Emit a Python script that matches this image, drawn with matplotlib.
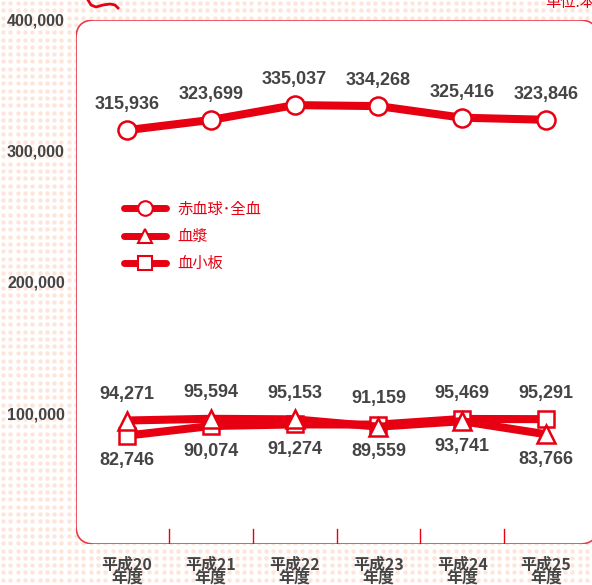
import numpy as np
import matplotlib
matplotlib.use("Agg")
import matplotlib.pyplot as plt
from matplotlib.patches import FancyBboxPatch
from matplotlib.lines import Line2D

years = ['平成20\n年度', '平成21\n年度', '平成22\n年度', '平成23\n年度', '平成24\n年度', '平成25\n年度']
whole_blood = [315936, 323699, 335037, 334268, 325416, 323846]
plasma = [94271, 95594, 95153, 89559, 93741, 83766]
platelet = [82746, 90074, 91274, 91159, 95469, 95291]
series_names = ['赤血球･全血', '血漿', '血小板']
yticks = [100000, 200000, 300000, 400000]

RED = '#e60012'
GRAY = '#444444'
NUM_FONT = ['Liberation Sans', 'DejaVu Sans']
JP_FONT = ['Noto Sans CJK JP', 'DejaVu Sans']

fig = plt.figure(figsize=(5.92, 5.85), dpi=100)

# dotted background
bg = fig.add_axes([0, 0, 1, 1], zorder=-10)
bg.set_xlim(0, 592)
bg.set_ylim(585, 0)
bg.axis('off')
gx, gy = np.meshgrid(np.arange(3, 592, 7.3), np.arange(3, 585, 7.3))
bg.scatter(gx.ravel(), gy.ravel(), s=10, color='#fde5da', linewidths=0)
bg.plot([88, 91, 96, 103, 110, 115, 118], [0, 5, 7, 5, 4, 5, 8], color=RED, lw=2)

ax = fig.add_axes([76 / 592, 41 / 585, 1 - 76 / 592 + 0.01, 524 / 585])
ax.patch.set_visible(False)
x = np.arange(len(years))
ax.set_xlim(-0.61, 5.62)
ax.set_ylim(0, 400000)
for s in ax.spines.values():
    s.set_visible(False)

box = FancyBboxPatch((0, 0), 1, 1, boxstyle='round,pad=0,rounding_size=0.035',
                     transform=ax.transAxes, facecolor='white', edgecolor='#e83a48',
                     lw=1.2, zorder=0)
ax.add_patch(box)

for xv in x[:-1] + 0.5:
    ax.axvline(xv, ymin=0, ymax=0.028, color=RED, lw=1, zorder=1)

kw = dict(color=RED, lw=5.8, markerfacecolor='white', markeredgecolor=RED,
          markeredgewidth=1.8, solid_capstyle='round', zorder=3)
ax.plot(x, whole_blood, marker='o', markersize=13, **kw)
ax.plot(x, platelet, marker='s', markersize=12, **kw)
ax.plot(x, plasma, marker='^', markersize=13, **kw)

lbl = dict(ha='center', color=GRAY, fontsize=13, fontweight='bold', family=NUM_FONT)
for i in x:
    ax.annotate(f'{whole_blood[i]:,}', (i, whole_blood[i]), xytext=(0, 12),
                textcoords='offset points', va='bottom', **lbl)
    hi = max(plasma[i], platelet[i])
    lo = min(plasma[i], platelet[i])
    ax.annotate(f'{hi:,}', (i, hi), xytext=(0, 12.5), textcoords='offset points',
                va='bottom', **lbl)
    ax.annotate(f'{lo:,}', (i, lo), xytext=(0, -12), textcoords='offset points',
                va='top', **lbl)

ax.set_yticks(yticks)
ax.set_yticklabels([f'{v:,}' for v in yticks], color=GRAY, fontsize=11.5,
                   fontweight='bold', family=NUM_FONT)
ax.set_xticks(x)
ax.set_xticklabels(years, color=GRAY, fontsize=11.5, fontweight='bold',
                   family=JP_FONT, linespacing=0.8)
ax.tick_params(axis='both', length=0)
ax.tick_params(axis='y', pad=8)
ax.tick_params(axis='x', pad=9)

handles = [Line2D([], [], color=RED, lw=5, marker=m, markersize=ms,
                  markerfacecolor='white', markeredgecolor=RED, markeredgewidth=1.5,
                  solid_capstyle='round')
           for m, ms in [('o', 10.5), ('^', 10.5), ('s', 9.5)]]
leg = ax.legend(handles, series_names, loc='center left', bbox_to_anchor=(0.078, 0.587),
                frameon=False, borderpad=0, handlelength=2.7, labelspacing=0.68,
                handletextpad=0.75, prop={'family': JP_FONT, 'size': 11})
for t in leg.get_texts():
    t.set_color(RED)

fig.text(545 / 592, 1 - 2 / 585, '単位:本', color=RED, fontsize=11, family=JP_FONT,
         va='center', ha='left')

fig.savefig('out.png', dpi=100)
